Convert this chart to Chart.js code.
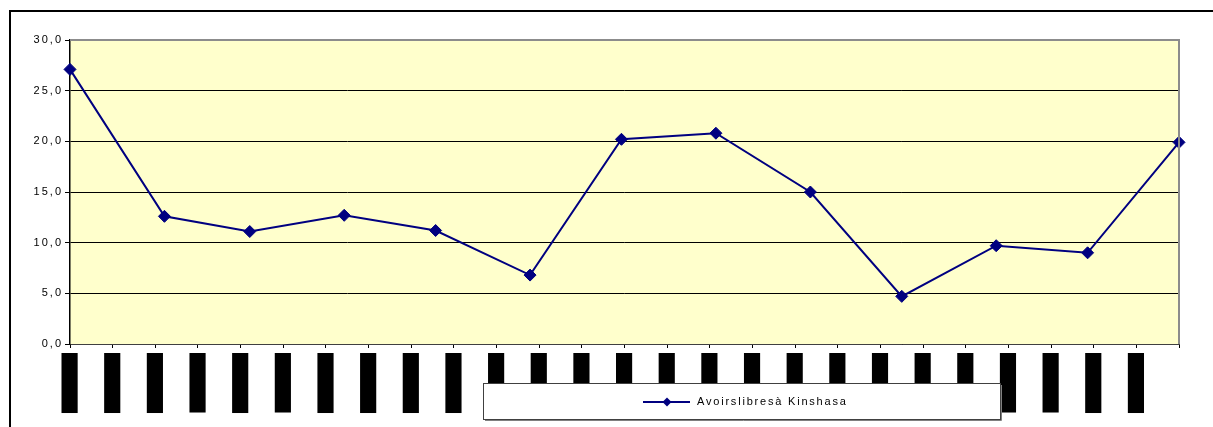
<!DOCTYPE html>
<html>
<head>
<meta charset="utf-8">
<script src="https://cdn.jsdelivr.net/npm/chart.js@4.4.1/dist/chart.umd.min.js"></script>
<style>
  html, body { margin: 0; padding: 0; background: #fff; }
  #wrap { width: 1213px; height: 427px; position: relative; }
</style>
</head>
<body>
<div id="wrap"><canvas id="chart"></canvas></div>
<script>
// Data
const seriesName = "Avoirslibresà Kinshasa";
const pointDays = [0, 31, 59, 90, 120, 151, 181, 212, 243, 273, 304, 334, 364];
const values = [27.1, 12.6, 11.1, 12.7, 11.2, 6.8, 20.2, 20.8, 15.0, 4.7, 9.7, 9.0, 19.9];

// x ticks every 14 days, last tick has no label
const tickDays = [0, 14, 28, 42, 56, 70, 84, 98, 112, 126, 140, 154, 168, 182, 196,
  210, 224, 238, 252, 266, 280, 294, 308, 322, 336, 350, 364];
const tickLabels = ["31/12/2004", "14/01/2005", "28/01/2005", "11/02/2005", "25/02/2005",
  "11/03/2005", "25/03/2005", "08/04/2005", "22/04/2005", "06/05/2005", "20/05/2005",
  "03/06/2005", "17/06/2005", "01/07/2005", "15/07/2005", "29/07/2005", "12/08/2005",
  "26/08/2005", "09/09/2005", "23/09/2005", "07/10/2005", "21/10/2005", "04/11/2005",
  "18/11/2005", "02/12/2005", "16/12/2005", ""];
const yTicks = [0, 5, 10, 15, 20, 25, 30];

const navy = "#000080";
const font = "'Liberation Sans', Arial, sans-serif";

// the original text is drawn wide-spaced
const spacing = {
  id: "spacing",
  beforeLayout(chart) { chart.ctx.letterSpacing = "2px"; },
  beforeDraw(chart) { chart.ctx.letterSpacing = "2px"; }
};

// yellow plot area, grey border, outer frame
const frame = {
  id: "frame",
  beforeDraw(chart) {
    const { ctx, chartArea: a } = chart;
    ctx.save();
    ctx.fillStyle = "#fff";
    ctx.fillRect(0, 0, chart.width, chart.height);
    ctx.fillStyle = "#FFFFCC";
    ctx.fillRect(a.left, a.top, a.right - a.left, a.bottom - a.top);
    ctx.strokeStyle = "#000";
    ctx.lineWidth = 2;
    ctx.beginPath();
    ctx.moveTo(10, chart.height);
    ctx.lineTo(10, 11);
    ctx.lineTo(chart.width, 11);
    ctx.stroke();
    ctx.restore();
  },
  afterDatasetsDraw(chart) {
    const { ctx, chartArea: a } = chart;
    ctx.save();
    ctx.strokeStyle = "#8c8c8c";
    ctx.lineWidth = 2;
    ctx.beginPath();
    ctx.moveTo(a.left, a.top);
    ctx.lineTo(a.right, a.top);
    ctx.lineTo(a.right, a.bottom);
    ctx.stroke();
    ctx.restore();
  }
};

// legend box drawn over the x labels, like the original
const legendBox = {
  id: "legendBox",
  afterDraw(chart) {
    const { ctx } = chart;
    const ds = chart.data.datasets[0];
    const x = 483, y = 383, w = 517, h = 36;
    ctx.save();
    ctx.fillStyle = "#fff";
    ctx.fillRect(x, y, w, h);
    ctx.strokeStyle = "#404040";
    ctx.lineWidth = 1;
    ctx.strokeRect(x + 0.5, y + 0.5, w, h);
    ctx.beginPath();
    ctx.moveTo(x + w + 1.5, y + 2);
    ctx.lineTo(x + w + 1.5, y + h + 1.5);
    ctx.lineTo(x + 2, y + h + 1.5);
    ctx.strokeStyle = "#808080";
    ctx.stroke();
    const cy = y + 19;
    ctx.strokeStyle = ds.borderColor;
    ctx.lineWidth = 2;
    ctx.beginPath();
    ctx.moveTo(643, cy);
    ctx.lineTo(690, cy);
    ctx.stroke();
    ctx.fillStyle = ds.pointBackgroundColor;
    ctx.beginPath();
    ctx.moveTo(667, cy - 4.5);
    ctx.lineTo(671.5, cy);
    ctx.lineTo(667, cy + 4.5);
    ctx.lineTo(662.5, cy);
    ctx.closePath();
    ctx.fill();
    ctx.fillStyle = "#000";
    ctx.font = "11px " + font;
    ctx.letterSpacing = "1.8px";
    ctx.textBaseline = "middle";
    ctx.fillText(ds.label, 697, cy);
    ctx.restore();
  }
};

new Chart(document.getElementById("chart"), {
  type: "line",
  data: {
    datasets: [{
      label: seriesName,
      data: pointDays.map((d, i) => ({ x: d, y: values[i] })),
      borderColor: navy,
      backgroundColor: navy,
      pointBackgroundColor: navy,
      pointBorderColor: navy,
      borderWidth: 2,
      pointStyle: "rectRot",
      pointRadius: 6,
      pointBorderWidth: 1,
      tension: 0,
      clip: false
    }]
  },
  options: {
    responsive: true,
    maintainAspectRatio: false,
    animation: false,
    layout: { padding: { top: 40, right: 34, bottom: 0, left: 0 } },
    plugins: { legend: { display: false }, tooltip: { enabled: false } },
    scales: {
      x: {
        type: "linear",
        min: tickDays[0],
        max: tickDays[tickDays.length - 1],
        afterBuildTicks: axis => { axis.ticks = tickDays.map(v => ({ value: v })); },
        afterFit: axis => { axis.height = 83; },
        grid: { drawOnChartArea: false, color: "#000", tickLength: 4 },
        border: { color: "#404040", width: 1 },
        ticks: {
          autoSkip: false,
          minRotation: 90,
          maxRotation: 90,
          padding: 8,
          labelOffset: -4.5,
          color: "#000",
          font: { family: font, size: 6.8 },
          showLabelBackdrop: true,
          backdropColor: c => (tickLabels[c.index] ? "#000" : "rgba(0,0,0,0)"),
          backdropPadding: { x: 3, y: 4 },
          callback: (v, i) => tickLabels[i]
        }
      },
      y: {
        min: 0,
        max: 30,
        afterBuildTicks: axis => { axis.ticks = yTicks.map(v => ({ value: v })); },
        afterFit: axis => { axis.width = 70; },
        grid: { color: "#000", lineWidth: 1, tickLength: 5 },
        border: { color: "#000", width: 1.5 },
        ticks: {
          padding: 2,
          color: "#000",
          font: { family: font, size: 11 },
          callback: v => v.toFixed(1).replace(".", ",")
        }
      }
    }
  },
  plugins: [spacing, frame, legendBox]
});
</script>
</body>
</html>
